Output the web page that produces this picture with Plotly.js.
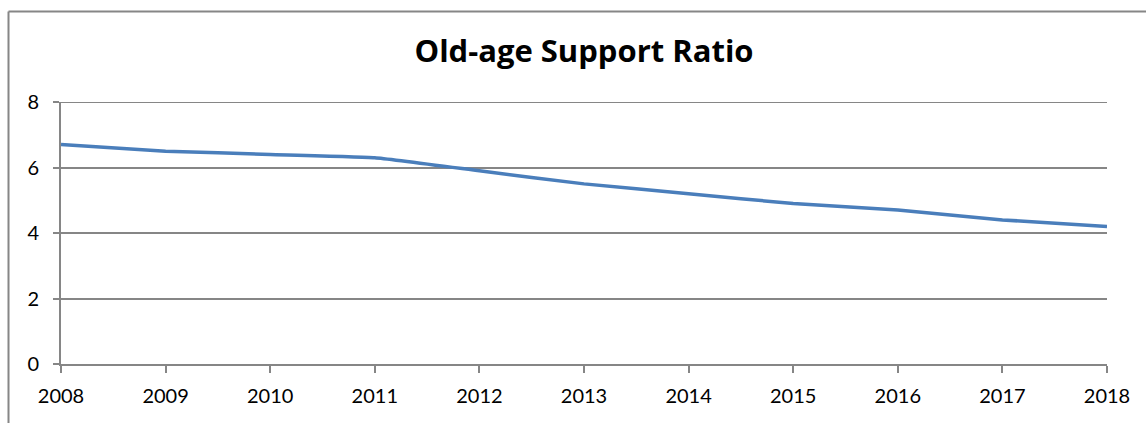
<!DOCTYPE html>
<html>
<head>
<meta charset="utf-8">
<script src="https://cdn.plot.ly/plotly-3.0.1.min.js"></script>
<style>
html,body{margin:0;padding:0;background:#fff;}
#chart{width:1146px;height:423px;}
</style>
</head>
<body>
<div id="chart"></div>
<script>
const years = [2008, 2009, 2010, 2011, 2012, 2013, 2014, 2015, 2016, 2017, 2018];
const supportRatio = [6.7, 6.5, 6.4, 6.3, 5.9, 5.5, 5.2, 4.9, 4.7, 4.4, 4.2];
const yTicks = [0, 2, 4, 6, 8];
const chartTitle = 'Old-age Support Ratio';

const W = 1146, H = 423;
const m = {l: 61, r: 39, t: 102, b: 59};
const pw = W - m.l - m.r, ph = H - m.t - m.b;
// chart-area border (left and top edges visible)
const bx = (8.5 - m.l) / pw;
const by = (H - m.b - 11.5) / ph;
const yMax = yTicks[yTicks.length - 1];

const trace = {
  x: years,
  y: supportRatio,
  type: 'scatter',
  mode: 'lines',
  line: {color: '#4A7EBB', width: 3.5, shape: 'spline', smoothing: 0.35},
  hoverinfo: 'x+y'
};

const layout = {
  width: W, height: H,
  margin: m,
  paper_bgcolor: '#ffffff',
  plot_bgcolor: '#ffffff',
  showlegend: false,
  font: {family: 'Lato, "Open Sans", sans-serif', color: '#000000'},
  title: {
    text: '<b>' + chartTitle + '</b>',
    font: {family: '"Open Sans", Lato, sans-serif', size: 31, color: '#000000'},
    x: 0.5, xref: 'paper', xanchor: 'center',
    y: 58, yref: 'container', yanchor: 'middle'
  },
  xaxis: {
    range: [years[0], years[years.length - 1]],
    tickvals: years,
    ticktext: years.map(String),
    showgrid: false,
    zeroline: false,
    showline: true, linecolor: '#868686', linewidth: 2,
    ticks: 'outside', ticklen: 7, tickwidth: 2, tickcolor: '#868686',
    tickfont: {size: 20, color: '#000000'},
    ticklabelstandoff: 6,
    fixedrange: true
  },
  yaxis: {
    range: [0, yMax],
    tickvals: yTicks,
    ticktext: yTicks.map(String),
    showgrid: true, gridcolor: '#868686', gridwidth: 2,
    zeroline: false,
    showline: true, linecolor: '#868686', linewidth: 2,
    ticks: 'outside', ticklen: 6, tickwidth: 2, tickcolor: '#868686',
    tickfont: {size: 20, color: '#000000'},
    ticklabelstandoff: 10,
    fixedrange: true
  },
  shapes: [
    // top gridline at the axis maximum (Plotly omits gridlines on the range edge)
    {type: 'line', xref: 'paper', yref: 'y', x0: 0, x1: 1, y0: yMax, y1: yMax,
     line: {color: '#868686', width: 2}, layer: 'below'},
    {type: 'line', xref: 'paper', yref: 'paper', x0: bx, x1: bx, y0: by, y1: -0.5,
     line: {color: '#868686', width: 2}},
    {type: 'line', xref: 'paper', yref: 'paper', x0: bx, x1: 1.2, y0: by, y1: by,
     line: {color: '#868686', width: 2}}
  ]
};

Plotly.newPlot('chart', [trace], layout, {displayModeBar: false, staticPlot: true});
</script>
</body>
</html>
